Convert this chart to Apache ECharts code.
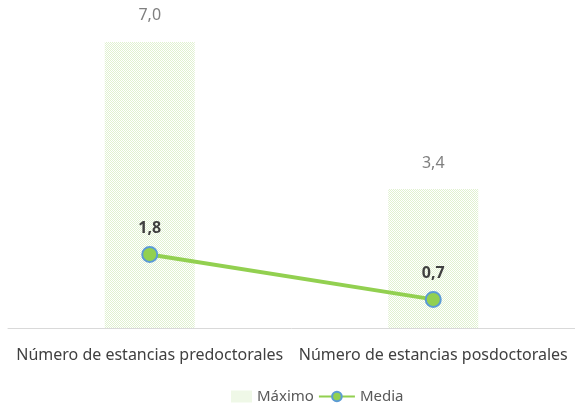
<!DOCTYPE html>
<html><head><meta charset="utf-8">
<script src="https://cdn.jsdelivr.net/npm/echarts@6/dist/echarts.min.js"></script>
<style>html,body{margin:0;padding:0;background:#fff}#c{width:575px;height:405px}</style>
</head><body><div id="c"></div>
<script>
const categories = ['Número de estancias predoctorales', 'Número de estancias posdoctorales'];
const maximo = [7.0, 3.4];
const media = [1.8, 0.7];
const seriesNames = ['Máximo', 'Media'];

function makePattern() {
  const c = document.createElement('canvas');
  c.width = 2; c.height = 2;
  const g = c.getContext('2d');
  g.fillStyle = '#ffffff'; g.fillRect(0, 0, 2, 2);
  g.fillStyle = '#E0F1D0';
  g.fillRect(0, 0, 1, 1); g.fillRect(1, 1, 1, 1);
  return c;
}
const pat = { image: makePattern(), repeat: 'repeat' };
const fmt = p => p.value.toFixed(1).replace('.', ',');
const font = 'Noto Sans';

const chart = echarts.init(document.getElementById('c'), null, { renderer: 'canvas' });
chart.setOption({
  animation: false,
  textStyle: { fontFamily: font },
  grid: { left: 8, right: 0, top: 1, bottom: 77, containLabel: false },
  xAxis: {
    type: 'category', data: categories,
    axisLine: { lineStyle: { color: '#D9D9D9', width: 1 } },
    axisTick: { show: false },
    axisLabel: { color: '#404040', fontSize: 16, fontFamily: font, margin: 19, interval: 0 }
  },
  yAxis: { type: 'value', min: 0, max: 8, show: false, splitLine: { show: false } },
  legend: {
    bottom: -4, left: 211, itemGap: 4, itemWidth: 36, itemHeight: 12,
    textStyle: { color: '#595959', fontSize: 15, fontFamily: font },
    data: [
      { name: seriesNames[0], icon: 'path://M0,6L0,6M15,0h21v12h-21zM36,6L36,6', itemStyle: { color: pat } },
      { name: seriesNames[1] }
    ]
  },
  series: [
    {
      name: seriesNames[0], type: 'bar', data: maximo, barWidth: 90,
      itemStyle: { color: pat },
      label: { show: true, position: 'top', distance: 18, color: '#7F7F7F', fontSize: 16, fontFamily: font, formatter: fmt }
    },
    {
      name: seriesNames[1], type: 'line', data: media,
      symbol: 'circle', symbolSize: 15,
      lineStyle: { color: '#92D050', width: 4 },
      itemStyle: { color: '#92D050', borderColor: '#5B9BD5', borderWidth: 2 },
      label: { show: true, position: 'top', distance: 9, color: '#404040', fontWeight: 'bold', fontSize: 16, fontFamily: font, formatter: fmt }
    }
  ]
});
</script></body></html>
